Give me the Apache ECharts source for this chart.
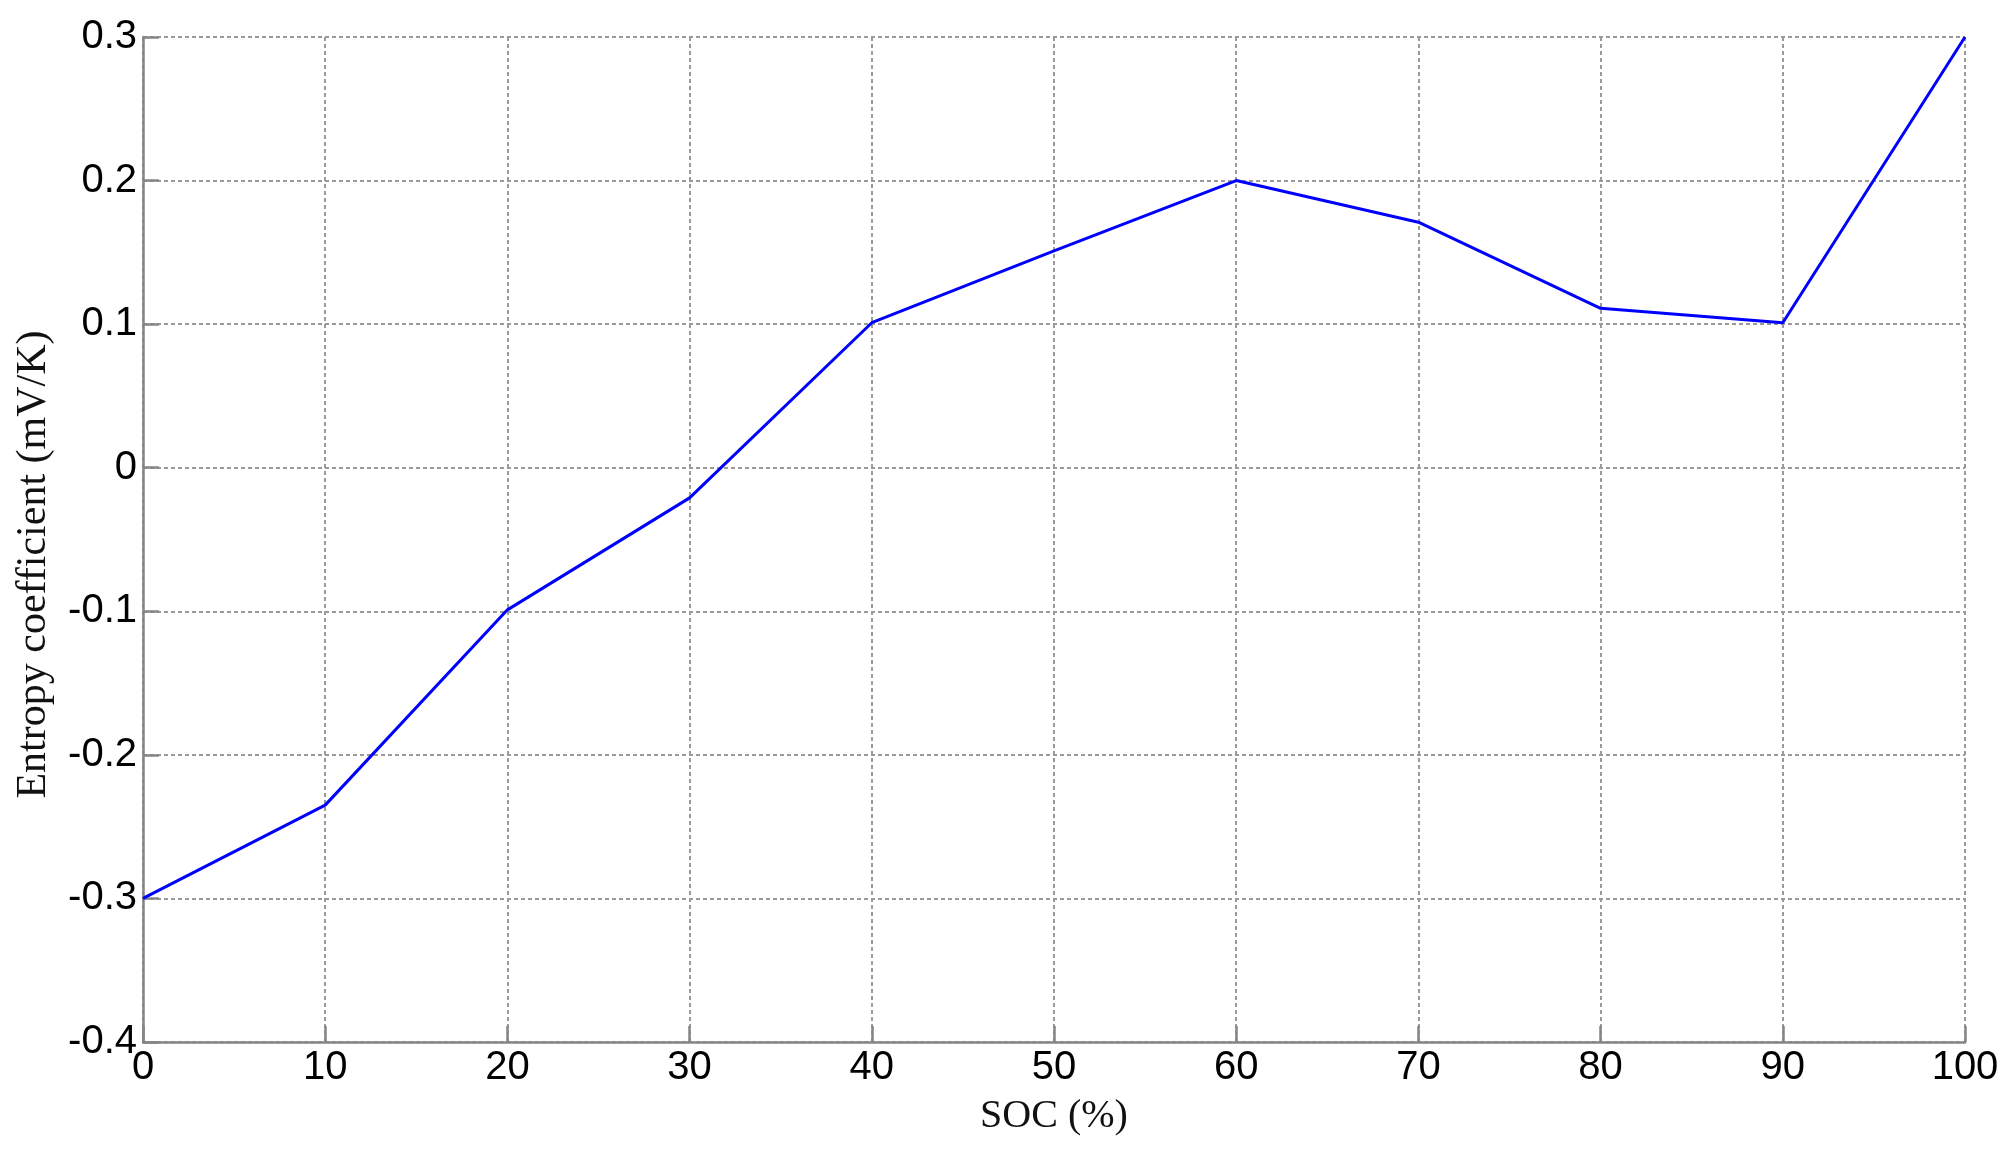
<!DOCTYPE html>
<html>
<head>
<meta charset="utf-8">
<script src="https://cdn.jsdelivr.net/npm/echarts@6/dist/echarts.min.js"></script>
<style>
html,body{margin:0;padding:0;background:#fff;}
#chart{width:2014px;height:1157px;}
</style>
</head>
<body>
<div id="chart"></div>
<script>
// Data
var socPercent = [0, 10, 20, 30, 40, 50, 60, 70, 80, 90, 100];
var entropyCoefficient = [-0.3, -0.235, -0.099, -0.021, 0.101, 0.151, 0.2, 0.171, 0.111, 0.101, 0.3];
var xTicks = {min: 0, max: 100, interval: 10};
var yTicks = {min: -0.4, max: 0.3, interval: 0.1};
var xTitle = 'SOC (%)';
var yTitle = 'Entropy coefficient (mV/K)';

var seriesData = socPercent.map(function (x, i) { return [x, entropyCoefficient[i]]; });

var gridLine = {show: true, lineStyle: {color: '#9a9a9a', width: 2, type: [4, 3]}};
var axisLine = {show: true, onZero: false, lineStyle: {color: '#858585', width: 2.5}};
var axisTick = {show: true, inside: true, length: 16, lineStyle: {color: '#858585', width: 2.5}};
var tickFont = {color: '#000', fontFamily: 'Liberation Sans, Arial, sans-serif', fontSize: 40};
var titleFont = {color: '#111', fontFamily: 'Liberation Serif, Times New Roman, serif', fontSize: 40};

var chart = echarts.init(document.getElementById('chart'), null, {renderer: 'canvas'});
chart.setOption({
  backgroundColor: '#ffffff',
  animation: false,
  grid: {left: 143, right: 49, top: 37, bottom: 115, containLabel: false},
  xAxis: {
    type: 'value',
    min: xTicks.min, max: xTicks.max, interval: xTicks.interval,
    name: xTitle, nameLocation: 'middle', nameGap: 54,
    nameTextStyle: titleFont,
    axisLine: axisLine, axisTick: axisTick,
    axisLabel: Object.assign({margin: 6}, tickFont),
    splitLine: gridLine
  },
  yAxis: {
    type: 'value',
    min: yTicks.min, max: yTicks.max, interval: yTicks.interval,
    name: yTitle, nameLocation: 'middle', nameGap: 88, nameRotate: 90,
    nameTextStyle: Object.assign({}, titleFont, {fontSize: 42, padding: [0, 50, 0, 0]}),
    axisLine: axisLine, axisTick: axisTick,
    axisLabel: Object.assign({margin: 6, formatter: function (v) { return String(Math.round(v * 10) / 10); }}, tickFont),
    splitLine: gridLine
  },
  series: [{
    type: 'line',
    data: seriesData,
    showSymbol: false,
    symbol: 'none',
    lineStyle: {color: '#0000ff', width: 3},
    itemStyle: {color: '#0000ff'}
  }]
});
</script>
</body>
</html>
